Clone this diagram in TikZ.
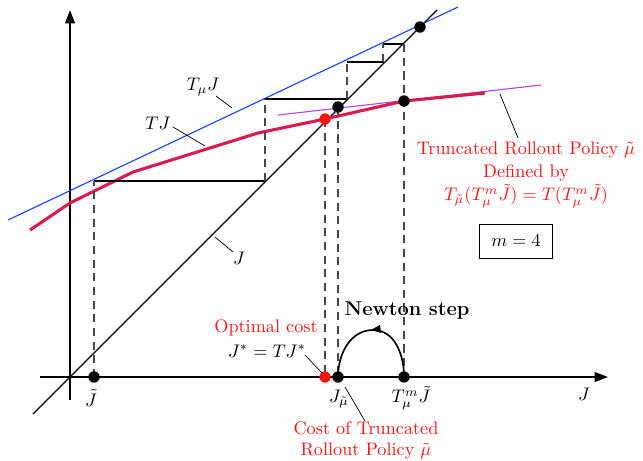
\documentclass[tikz,border=0pt]{standalone}
\usepackage{amsmath,amssymb}
\usetikzlibrary{arrows.meta,positioning,decorations.markings}
\definecolor{tjred}{RGB}{215,28,78}
\definecolor{tmublue}{RGB}{15,65,255}
\definecolor{rollpurple}{RGB}{185,60,255}
\definecolor{labelred}{RGB}{255,20,20}
\tikzset{axis/.style={-{Triangle[length=2.6mm,width=1.9mm]},line width=0.85pt},guide/.style={dash pattern=on 4.5pt off 3pt,draw=black!72,line width=0.6pt},stair/.style={draw=black,line width=0.7pt},dot/.style={circle,fill=black,inner sep=0pt,minimum size=2.2mm},optdot/.style={dot,fill=labelred},leader/.style={draw=black,thin},lbl/.style={inner sep=1pt},redlbl/.style={text=labelred,align=center,inner sep=1pt},newton/.style={line width=0.9pt,postaction={decorate},decoration={markings,mark=at position 0.52 with {\arrow{Latex[length=2.2mm]}}}}}
\begin{document}
\begin{tikzpicture}[x=0.0193cm,y=-0.0193cm]
\useasboundingbox (0,0) rectangle (643,460);
% axes and the line J
\draw[axis] (70,400) -- (70,10);
\draw[axis] (40,377) -- (608,377);
\coordinate (diaglo) at (33,414);
\coordinate (diaghi) at (437,10);
\draw[line width=0.65pt] (diaglo) -- (diaghi);
% T_mu J, TJ and the rollout line
\draw[tmublue,semithick] (8,220) -- (458,7);
\draw[rollpurple,semithick] (278,115) -- (541,85);
\draw[tjred,line width=1.7pt] (30,230) -- (70,203) -- (133,172) -- (258,133) -- (325,119) -- (404,101) -- (485,93);
% staircase
\draw[stair] (94,181) -- (265,181);
\draw[stair] (265,99) -- (347,99);
\draw[stair] (347,62) -- (384,62);
\draw[stair] (383,44) -- (404,44);
\draw[guide] (94,377) -- (94,181);
\draw[guide] (265,181) -- (265,99);
\draw[guide] (347,99) -- (347,62);
\draw[guide] (383,62) -- (383,44);
\draw[guide] (404,44) -- (404,377);
\draw[guide] (325,119) -- (325,377);
\draw[guide] (338,107) -- (338,377);
% points
\node[dot] (top) at (420,27) {};
\node[dot] (fixmu) at (338,107) {};
\node[dot] (tmjcurve) at (404,101) {};
\node[optdot] (optcurve) at (325,119) {};
\node[dot] (jtilde) at (94,377) {};
\node[optdot] (jstar) at (325,377) {};
\node[dot] (jmu) at (338,377) {};
\node[dot] (tmj) at (404,377) {};
% Newton step
\coordinate (newtontop) at (373,330);
\draw[newton] (tmj.center) to[out=90,in=0] (newtontop) to[out=180,in=90] (jmu.center);
\node[font=\fontsize{11}{13}\selectfont\bfseries,lbl] (newtonlbl) at (407,311) {Newton step};
% labels on the axis
\node[lbl] (jtildelbl) at (91,398) {$\tilde J$};
\node[lbl] (jmulbl) at (339,399) {$J_{\tilde\mu}$};
\node[lbl] (tmjlbl) at (411,398) {$T_\mu^m\tilde J$};
\node[lbl] (jaxislbl) at (584,394) {$J$};
\node[redlbl] (optcost) at (266,328) {Optimal cost};
\node[lbl] (jstarlbl) at (267,351) {$J^*=TJ^*$};
\node[redlbl,font=\fontsize{10}{11.5}\selectfont] (costlbl) at (366,440) {Cost of Truncated\\Rollout Policy $\tilde\mu$};
% labels of the curves
\node[lbl] (tmulbl) at (203,87) {$T_\mu J$};
\node[lbl] (tjlbl) at (158,123) {$TJ$};
\node[lbl] (jdiaglbl) at (239,258) {$J$};
\node[redlbl,font=\fontsize{10}{12.6}\selectfont] (rolllbl) at (526,175) {Truncated Rollout Policy $\tilde\mu$\\Defined by\\$T_{\tilde\mu}(T_\mu^m\tilde J)=T(T_\mu^m\tilde J)$};
\node[draw,thin,minimum width=1.4cm,minimum height=0.66cm] (mbox) at (516,241) {$m=4$};
% leaders
\coordinate (tmubeg) at (216,96);
\coordinate (tmuend) at (232,108);
\coordinate (tjbeg) at (173,127);
\coordinate (tjend) at (205,146);
\coordinate (jdiagbeg) at (233,252);
\coordinate (jdiagend) at (215,237);
\coordinate (jstarbeg) at (305,355);
\coordinate (jstarend) at (322,373);
\coordinate (jmubeg) at (365,421);
\coordinate (jmuend) at (345,387);
\coordinate (rollbeg) at (518,138);
\coordinate (rollend) at (500,94);
\draw[leader] (tmubeg) -- (tmuend);
\draw[leader] (tjbeg) -- (tjend);
\draw[leader] (jdiagbeg) -- (jdiagend);
\draw[leader] (jstarbeg) -- (jstarend);
\draw[leader] (jmubeg) -- (jmuend);
\draw[leader] (rollbeg) -- (rollend);
\end{tikzpicture}
\end{document}
